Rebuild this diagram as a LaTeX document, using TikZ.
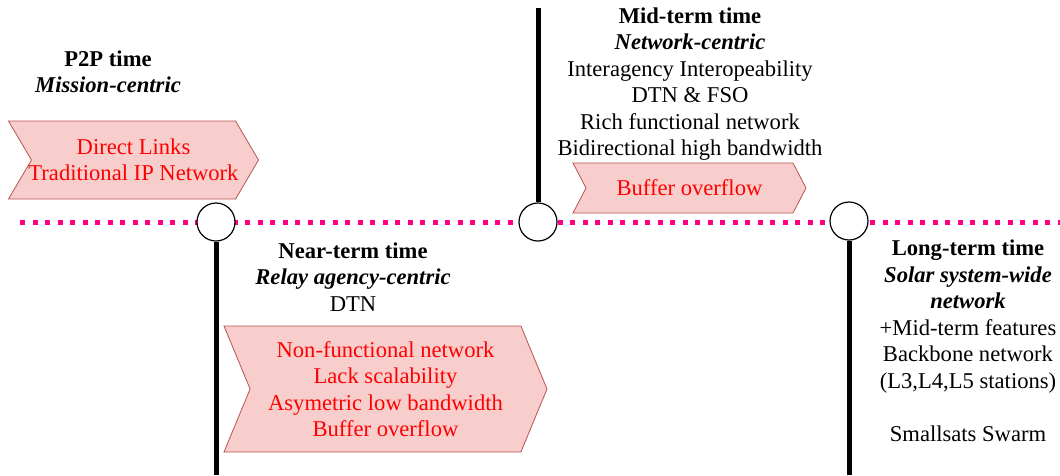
\documentclass[tikz,border=0pt]{standalone}
\usepackage{fontspec}
\setmainfont{Liberation Serif}
\usetikzlibrary{shapes.symbols}
\definecolor{boxfill}{HTML}{F8CECC}
\definecolor{boxline}{HTML}{B85450}
\definecolor{timeline}{HTML}{FF0080}

\begin{document}
\begin{tikzpicture}[x=1pt, y=-1pt,
  every node/.style={font=\fontsize{22.6}{26.5}\selectfont, align=center, inner sep=0pt},
  milestone/.style={circle, draw, fill=white, line width=1.2pt, minimum size=38pt},
  stem/.style={line width=5pt},
  track/.style={timeline, line width=5pt, dash pattern=on 5pt off 7.5pt},
  phase/.style={signal, signal to=east, signal from=west, draw=boxline, fill=boxfill,
    text=red, line width=0.8pt}]
  \useasboundingbox (0,0) rectangle (1060,475);

  % timeline
  \coordinate (t0) at (20,222);
  \coordinate (t1) at (1060,222);
  \draw[track] (t0) -- (t1);

  % milestones
  \node[milestone] (near) at (216,222) {};
  \node[milestone] (mid) at (538,222) {};
  \node[milestone] (long) at (849,221) {};
  \coordinate (near foot) at (216,475);
  \coordinate (mid top) at (538,8);
  \coordinate (long foot) at (849,475);
  \draw[stem] (near) -- (near foot);
  \draw[stem] (mid) -- (mid top);
  \draw[stem] (long) -- (long foot);

  % eras
  \node (p2p) at (108,72) {\textbf{P2P time}\\\textbf{\textit{Mission-centric}}};
  \node (near txt) at (353,277) {\textbf{Near-term time}\\\textbf{\textit{Relay agency-centric}}\\DTN};
  \node (mid txt) at (690,84) {\textbf{Mid-term time}\\\textbf{\textit{Network-centric}}\\Interagency Interopeability\\DTN \& FSO\\Rich functional network\\Bidirectional high bandwidth};
  \node (long txt) at (968,341) {\textbf{Long-term time}\\\textbf{\textit{Solar system-wide}}\\\textbf{\textit{network}}\\+Mid-term features\\Backbone network\\(L3,L4,L5 stations)\\[26.5pt]Smallsats Swarm};

  % issues
  \node[phase, signal pointer angle=119, inner xsep=-3pt, minimum width=246pt, minimum height=78pt] (p2p box) at (133.5,160) {Direct Links\\Traditional IP Network};
  \node[phase, signal pointer angle=135, minimum width=323pt, minimum height=126pt] (near box) at (385.5,389) {Non-functional network\\Lack scalability\\Asymetric low bandwidth\\Buffer overflow};
  \node[phase, signal pointer angle=125, minimum width=233pt, minimum height=50pt] (mid box) at (689.5,188) {Buffer overflow};
\end{tikzpicture}
\end{document}
